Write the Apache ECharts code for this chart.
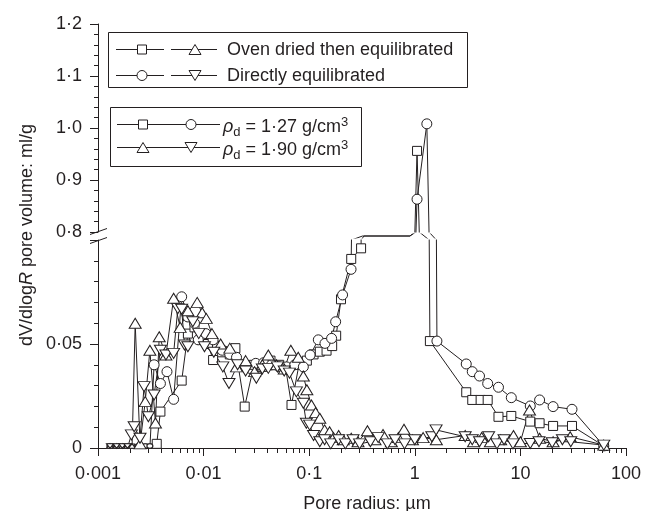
<!DOCTYPE html>
<html>
<head>
<meta charset="utf-8">
<script src="https://cdn.jsdelivr.net/npm/echarts@6/dist/echarts.min.js"></script>
<style>
  html, body { margin: 0; padding: 0; background: #fff; }
  #chart { width: 653px; height: 511px; }
</style>
</head>
<body>
<div id="chart"></div>
<script>
// 数据 [孔径 µm, dV/dlogR ml/g]
// 1.27 g/cm3 烘干后平衡 (方块)
var ovenLoose = [
  [0.0013, 0], [0.0015, 0], [0.0018, 0], [0.0021, 0], [0.0025, 0], [0.0029, 0],
  [0.0033, 0], [0.0036, 0.002], [0.0039, 0.0175], [0.0062, 0.0324], [0.0071, 0.055], [0.0082, 0.058],
  [0.0095, 0.052], [0.011, 0.050], [0.0123, 0.0423], [0.015, 0.046], [0.0177, 0.045], [0.020, 0.048],
  [0.0245, 0.0199], [0.030, 0.040], [0.036, 0.039], [0.043, 0.042], [0.052, 0.040], [0.060, 0.038],
  [0.068, 0.0207], [0.080, 0.040], [0.095, 0.042], [0.11, 0.045], [0.126, 0.0463], [0.146, 0.0468],
  [0.165, 0.049], [0.18, 0.054], [0.20, 0.0715], [0.25, 0.0909], [0.31, 0.096], [0.33, 0.45],
  [0.90, 0.45], [1.05, 0.956], [1.39, 0.0514], [3.07, 0.0268], [3.5, 0.0231], [4.2, 0.0231],
  [4.9, 0.0231], [6.2, 0.015], [8.2, 0.0154], [12.4, 0.0127], [15.2, 0.0119], [20.4, 0.0106],
  [30.8, 0.0106], [61.6, 0.001]
]
// 1.27 g/cm3 直接平衡 (圆)
var directLoose = [
  [0.0013, 0], [0.0016, 0], [0.002, 0], [0.0024, 0], [0.0028, 0], [0.0031, 0],
  [0.0034, 0.040], [0.0039, 0.031], [0.0045, 0.0367], [0.0052, 0.0234], [0.0062, 0.0727], [0.0071, 0.063],
  [0.0082, 0.060], [0.0089, 0.052], [0.0105, 0.055], [0.0123, 0.052], [0.015, 0.047], [0.0177, 0.045],
  [0.0205, 0.0436], [0.025, 0.040], [0.0312, 0.0407], [0.037, 0.041], [0.044, 0.040], [0.052, 0.039],
  [0.061, 0.039], [0.073, 0.040], [0.088, 0.039], [0.102, 0.0447], [0.122, 0.052], [0.141, 0.0503],
  [0.163, 0.0527], [0.178, 0.0607], [0.207, 0.0736], [0.249, 0.0859], [0.32, 0.45], [0.90, 0.45],
  [1.05, 0.863], [1.30, 1.008], [1.62, 0.0514], [3.07, 0.0404], [3.5, 0.0367], [4.1, 0.0346],
  [4.9, 0.031], [6.2, 0.0292], [8.2, 0.0242], [12.4, 0.0202], [15.2, 0.0231], [20.4, 0.0199],
  [30.8, 0.0186], [61.6, 0.001]
]
// 1.90 g/cm3 烘干后平衡 (正三角)
var ovenDense = [
  [0.0013, 0], [0.0015, 0], [0.0017, 0], [0.0019, 0], [0.0021, 0], [0.00225, 0.060],
  [0.0025, 0.002], [0.0028, 0.0223], [0.0031, 0.047], [0.0035, 0.012], [0.0038, 0.0535], [0.0044, 0.0447],
  [0.0052, 0.072], [0.006, 0.058], [0.0071, 0.066], [0.0087, 0.070], [0.0097, 0.065], [0.0106, 0.0623],
  [0.012, 0.055], [0.0145, 0.050], [0.0177, 0.048], [0.0205, 0.039], [0.025, 0.042], [0.0304, 0.0367],
  [0.036, 0.040], [0.041, 0.0447], [0.049, 0.040], [0.058, 0.038], [0.067, 0.047], [0.0787, 0.0436],
  [0.088, 0.0346], [0.095, 0.028], [0.105, 0.0207], [0.115, 0.017], [0.126, 0.0143], [0.14, 0.0087],
  [0.156, 0.0078], [0.17, 0.005], [0.19, 0.006], [0.21, 0.004], [0.25, 0.0047], [0.29, 0.003],
  [0.356, 0.0083], [0.42, 0.004], [0.5, 0.0065], [0.6, 0.003], [0.7, 0.005], [0.79, 0.009],
  [0.95, 0.004], [1.2, 0.005], [1.6, 0.004], [3.0, 0.006], [3.6, 0.003], [4.3, 0.005],
  [5.2, 0.003], [6.5, 0.004], [8.6, 0.006], [10, 0.003], [12.2, 0.0183], [15.2, 0.0047],
  [20.4, 0.003], [29.6, 0.0054], [61.6, 0.0014]
]
// 1.90 g/cm3 直接平衡 (倒三角)
var directDense = [
  [0.0013, 0], [0.0015, 0], [0.0017, 0], [0.0019, 0], [0.00207, 0.0063], [0.0022, 0.0102],
  [0.0025, 0.0047], [0.00273, 0.0295], [0.003, 0.015], [0.0034, 0.0255], [0.0039, 0.047], [0.0044, 0.0447],
  [0.0052, 0.0455], [0.0057, 0.067], [0.0062, 0.0667], [0.0066, 0.0495], [0.0071, 0.0487], [0.0079, 0.0607],
  [0.009, 0.055], [0.0102, 0.0487], [0.0125, 0.046], [0.0152, 0.039], [0.0174, 0.031], [0.021, 0.040],
  [0.025, 0.037], [0.0316, 0.0335], [0.036, 0.038], [0.041, 0.0383], [0.05, 0.039], [0.058, 0.037],
  [0.065, 0.036], [0.0756, 0.027], [0.088, 0.0215], [0.094, 0.0119], [0.101, 0.011], [0.11, 0.006],
  [0.126, 0.003], [0.14, 0.004], [0.16, 0.002], [0.19, 0.004], [0.22, 0.002], [0.26, 0.004],
  [0.3, 0.002], [0.38, 0.003], [0.45, 0.005], [0.55, 0.002], [0.65, 0.004], [0.8, 0.002],
  [1.0, 0.004], [1.45, 0.0054], [1.59, 0.0087], [3.0, 0.0054], [3.5, 0.004], [4.1, 0.003],
  [5.0, 0.0054], [6.0, 0.002], [7.0, 0.004], [8.5, 0.002], [12.4, 0.0022], [15, 0.003],
  [20, 0.0025], [25, 0.004], [30, 0.003], [61.6, 0.0014]
]

// 刻度标签
var xTickLabels = ['0·001', '0·01', '0·1', '1', '10', '100']
var lowTicks = [0, 0.05]
var lowTickLabels = ['0', '0·05']
var highTicks = [0.8, 0.9, 1.0, 1.1, 1.2]
var highTickLabels = ['0·8', '0·9', '1·0', '1·1', '1·2']

var ink = '#231f20'
var font = 'Liberation Sans, Arial, Helvetica, sans-serif'

// log 轴的 2..9 次刻度
var minorX = []
for (var e = -3; e < 2; e++) {
  for (var m = 2; m <= 9; m++) minorX.push(+(m * Math.pow(10, e)).toPrecision(3))
}

function pickLabel(ticks, labels) {
  return function (v) {
    for (var i = 0; i < ticks.length; i++) {
      if (Math.abs(ticks[i] - v) < 1e-9) return labels[i]
    }
    return ''
  }
}

function hiddenX(gridIndex) {
  return {
    type: 'log', logBase: 10, gridIndex: gridIndex, min: 0.001, max: 100, position: 'bottom',
    axisLine: { show: false }, axisTick: { show: false }, axisLabel: { show: false }, splitLine: { show: false }
  }
}

var markers = [
  { data: ovenLoose, symbol: 'rect', size: [9, 9], rotate: 0 },
  { data: directLoose, symbol: 'circle', size: [10, 10], rotate: 0 },
  { data: ovenDense, symbol: 'triangle', size: [12, 10], rotate: 0 },
  { data: directDense, symbol: 'triangle', size: [12, 10], rotate: 180 }
]
// grid 0: 0-0.1, grid 1: 0.8-1.2, grid 2: 断轴区 (只画线)
var gridIds = [0, 1, 2]
var xIndexOfGrid = [0, 2, 3]

var series = []
markers.forEach(function (mk) {
  // 落在 0 上的点被横轴截掉一半，画小一点
  var points = mk.data.map(function (p) {
    var onAxis = p[1] === 0
    return {
      value: p,
      symbolSize: onAxis ? [mk.size[0] * 0.6, mk.size[1] * 0.45] : mk.size,
      symbolOffset: onAxis ? [0, -2] : [0, 0]
    }
  })
  gridIds.forEach(function (g) {
    series.push({
      type: 'line',
      xAxisIndex: xIndexOfGrid[g],
      yAxisIndex: g,
      data: points,
      clip: true,
      symbol: mk.symbol,
      symbolRotate: mk.rotate,
      showSymbol: g !== 2,
      lineStyle: { color: ink, width: 1 },
      itemStyle: { color: '#fff', borderColor: ink, borderWidth: 1 },
      emphasis: { disabled: true },
      silent: true,
      animation: false
    })
  })
})

// 图例
function legendSym(kind, cx, cy) {
  var st = { fill: '#fff', stroke: ink, lineWidth: 1 }
  if (kind === 'rect') return { type: 'rect', shape: { x: cx - 4.5, y: cy - 4.5, width: 9, height: 9 }, style: st, z: 101 }
  if (kind === 'circle') return { type: 'circle', shape: { cx: cx, cy: cy, r: 5 }, style: st, z: 101 }
  if (kind === 'up') return { type: 'polygon', shape: { points: [[cx - 6, cy + 5], [cx + 6, cy + 5], [cx, cy - 5]] }, style: st, z: 101 }
  return { type: 'polygon', shape: { points: [[cx - 6, cy - 5], [cx + 6, cy - 5], [cx, cy + 5]] }, style: st, z: 101 }
}
function seg(x1, y1, x2, y2) {
  return { type: 'line', shape: { x1: x1, y1: y1, x2: x2, y2: y2 }, style: { stroke: ink, lineWidth: 1 }, z: 100 }
}
var textStyle = { fontSize: 18, fontFamily: font, fill: ink }
var rich = {
  n: { fontSize: 18, fontFamily: font },
  i: { fontSize: 18, fontFamily: font, fontStyle: 'italic' },
  s: { fontSize: 13, fontFamily: font, padding: [10, 0, 0, 0] },
  p: { fontSize: 13, fontFamily: font, padding: [0, 0, 10, 0] }
}

var graphics = [
  { type: 'rect', shape: { x: 108.5, y: 32.5, width: 359, height: 55 }, style: { fill: '#fff', stroke: ink, lineWidth: 1 }, z: 99 },
  seg(116, 49.5, 164, 49.5), seg(171, 49.5, 217, 49.5), legendSym('rect', 142, 49.5), legendSym('up', 195, 49.5),
  { type: 'text', x: 227, y: 50, style: Object.assign({ text: 'Oven dried then equilibrated', verticalAlign: 'middle' }, textStyle), z: 101 },
  seg(116, 75.5, 164, 75.5), seg(171, 75.5, 217, 75.5), legendSym('circle', 142, 75.5), legendSym('down', 195, 75.5),
  { type: 'text', x: 227, y: 76, style: Object.assign({ text: 'Directly equilibrated', verticalAlign: 'middle' }, textStyle), z: 101 },

  { type: 'rect', shape: { x: 110.5, y: 107.5, width: 251, height: 59 }, style: { fill: '#fff', stroke: ink, lineWidth: 1 }, z: 99 },
  seg(117, 124.5, 220, 124.5), legendSym('rect', 143, 124.5), legendSym('circle', 191, 124.5),
  { type: 'text', x: 223, y: 127, style: Object.assign({ text: '{i|ρ}{s|d}{n| = 1·27 g/cm}{p|3}', rich: rich, verticalAlign: 'middle' }, textStyle), z: 101 },
  seg(117, 147.5, 220, 147.5), legendSym('up', 143, 147.5), legendSym('down', 191, 147.5),
  { type: 'text', x: 223, y: 150, style: Object.assign({ text: '{i|ρ}{s|d}{n| = 1·90 g/cm}{p|3}', rich: rich, verticalAlign: 'middle' }, textStyle), z: 101 },

  // 断轴标记
  seg(90, 234.5, 107, 228.5), seg(90, 243.5, 107, 237.5),

  // y 轴标题
  {
    type: 'text', x: 27, y: 235, rotation: Math.PI / 2,
    style: Object.assign({ text: '{n|dV/dlog}{i|R}{n| pore volume: ml/g}', rich: rich, align: 'center', verticalAlign: 'middle' }, textStyle)
  }
]

var chart = echarts.init(document.getElementById('chart'))
chart.setOption({
  backgroundColor: '#fff',
  animation: false,
  textStyle: { fontFamily: font, color: ink },
  grid: [
    { left: 98, right: 27, top: 240, height: 208, containLabel: false, outerBoundsMode: 'none' },
    { left: 98, right: 27, top: 24, height: 208, containLabel: false, outerBoundsMode: 'none' },
    // 断轴带 232-240 px 对应 0.1-0.8；只取中间 4px 以免裁剪容差把下方的线露出来
    { left: 98, right: 27, top: 234, height: 4, containLabel: false, outerBoundsMode: 'none' }
  ],
  xAxis: [
    {
      type: 'log', logBase: 10, gridIndex: 0, min: 0.001, max: 100, position: 'bottom',
      name: 'Pore radius: µm', nameLocation: 'middle', nameGap: 47,
      nameTextStyle: { fontSize: 18, color: ink, fontFamily: font, padding: [0, 0, 0, 10] },
      axisLine: { show: true, lineStyle: { color: ink, width: 1 } },
      axisTick: { show: true, inside: false, length: 8, lineStyle: { color: ink, width: 1 } },
      minorTick: { show: false },
      axisLabel: {
        fontSize: 18, color: ink, fontFamily: font, margin: 17,
        formatter: function (v) { return xTickLabels[Math.round(Math.log10(v)) + 3] }
      },
      splitLine: { show: false }
    },
    {
      type: 'log', logBase: 10, gridIndex: 0, min: 0.001, max: 100, position: 'bottom',
      axisLine: { show: false },
      axisTick: { show: true, inside: false, length: 5, customValues: minorX, lineStyle: { color: ink, width: 1 } },
      axisLabel: { show: false },
      splitLine: { show: false }
    },
    hiddenX(1),
    hiddenX(2)
  ],
  yAxis: [
    {
      type: 'value', gridIndex: 0, min: 0, max: 0.1, interval: 0.05,
      axisLine: { show: true, lineStyle: { color: ink, width: 1 } },
      axisTick: { show: true, inside: false, length: 8, lineStyle: { color: ink, width: 1 } },
      minorTick: { show: true, splitNumber: 5, length: 4, lineStyle: { color: ink, width: 1 } },
      axisLabel: { fontSize: 18, color: ink, fontFamily: font, margin: 16, formatter: pickLabel(lowTicks, lowTickLabels) },
      splitLine: { show: false }, minorSplitLine: { show: false }
    },
    {
      type: 'value', gridIndex: 1, min: 0.8, max: 1.2, interval: 0.1,
      axisLine: { show: true, lineStyle: { color: ink, width: 1 } },
      axisTick: { show: true, inside: false, length: 8, lineStyle: { color: ink, width: 1 } },
      minorTick: { show: true, splitNumber: 5, length: 4, lineStyle: { color: ink, width: 1 } },
      axisLabel: { fontSize: 18, color: ink, fontFamily: font, margin: 16, formatter: pickLabel(highTicks, highTickLabels) },
      splitLine: { show: false }, minorSplitLine: { show: false }
    },
    {
      // 每 px 0.0875，与 8px 对 0.7 的断轴带一致
      type: 'value', gridIndex: 2, min: 0.275, max: 0.625,
      axisLine: { show: false }, axisTick: { show: false }, axisLabel: { show: false }, splitLine: { show: false }
    }
  ],
  series: series,
  graphic: graphics
})
</script>
</body>
</html>
